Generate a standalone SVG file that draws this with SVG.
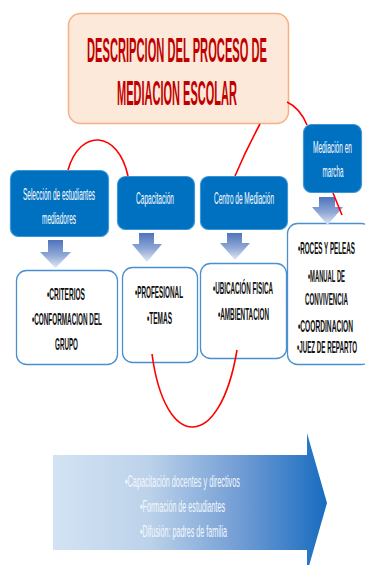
<svg xmlns="http://www.w3.org/2000/svg" width="365" height="565" viewBox="0 0 365 565">
<defs>
<linearGradient id="gDown" x1="0" y1="0" x2="0" y2="1">
<stop offset="0" stop-color="#4e74bd"/>
<stop offset="0.55" stop-color="#8fa8d6"/>
<stop offset="1" stop-color="#e2e9f5"/>
</linearGradient>
<linearGradient id="gBig" gradientUnits="userSpaceOnUse" x1="53" y1="0" x2="327" y2="0">
<stop offset="0" stop-color="#d3e3f3"/>
<stop offset="0.35" stop-color="#bcd2ea"/>
<stop offset="0.7" stop-color="#6d9ad3"/>
<stop offset="1" stop-color="#176cc0"/>
</linearGradient>
<style>
.title{font-family:"Liberation Sans",Arial,sans-serif;font-weight:bold;font-size:36px;fill:#c00000;text-anchor:middle}
.blue{fill:#0070c0;stroke:#3d97d6;stroke-width:1.2}
.bt{font-family:"Liberation Sans",Arial,sans-serif;font-size:17px;fill:#ffffff;text-anchor:middle}
.wbox{fill:#ffffff;stroke:#4a90d0;stroke-width:1.3}
.wt{font-family:"Liberation Sans",Arial,sans-serif;font-weight:bold;font-size:16px;fill:#111111;text-anchor:middle}
.down{fill:url(#gDown)}
.red{fill:none;stroke:#ff0000;stroke-width:1.6}
.at{font-family:"Liberation Sans",Arial,sans-serif;font-size:17px;fill:#f4f8fc;text-anchor:middle}
</style>
</defs>

<g id="title">
<rect x="68.5" y="13.5" width="220" height="110" rx="12" fill="#fde9d9" stroke="#f4b183" stroke-width="1.5"/>
<text class="title" transform="translate(177,62) scale(0.31,1)" textLength="580.6" lengthAdjust="spacingAndGlyphs">DESCRIPCION DEL PROCESO DE</text>
<text class="title" transform="translate(177,105) scale(0.31,1)" textLength="387.1" lengthAdjust="spacingAndGlyphs">MEDIACION ESCOLAR</text>
</g>

<g id="seleccion">
<rect class="blue" x="10.5" y="170.5" width="98" height="66" rx="8"/>
<text class="bt" transform="translate(59,200) scale(0.39,1)" textLength="184.6" lengthAdjust="spacingAndGlyphs">Selección de estudiantes</text>
<text class="bt" transform="translate(59,224) scale(0.39,1)" textLength="87.2" lengthAdjust="spacingAndGlyphs">mediadores</text>
</g>

<g id="capacitacion">
<rect class="blue" x="117.5" y="176.5" width="77" height="53" rx="8"/>
<text class="bt" transform="translate(155,204) scale(0.39,1)" textLength="97.4" lengthAdjust="spacingAndGlyphs">Capacitación</text>
</g>

<g id="centro">
<rect class="blue" x="200.5" y="176.5" width="87" height="53" rx="8"/>
<text class="bt" transform="translate(244,204) scale(0.39,1)" textLength="153.8" lengthAdjust="spacingAndGlyphs">Centro de Mediación</text>
</g>

<g id="mediacion">
<rect class="blue" x="303.5" y="124.5" width="58" height="68" rx="8"/>
<text class="bt" transform="translate(332.5,153) scale(0.39,1)" textLength="100" lengthAdjust="spacingAndGlyphs">Mediación en</text>
<text class="bt" transform="translate(333,177) scale(0.39,1)" textLength="53.8" lengthAdjust="spacingAndGlyphs">marcha</text>
</g>

<g id="box-seleccion">
<rect class="wbox" x="16.5" y="270.5" width="101" height="94" rx="10"/>
<text class="wt" transform="translate(66,300) scale(0.4,1)" textLength="95" lengthAdjust="spacingAndGlyphs">•CRITERIOS</text>
<text class="wt" transform="translate(67,325) scale(0.4,1)" textLength="175" lengthAdjust="spacingAndGlyphs">•CONFORMACION DEL</text>
<text class="wt" transform="translate(66.5,350) scale(0.4,1)" textLength="57.5" lengthAdjust="spacingAndGlyphs">GRUPO</text>
</g>

<g id="box-capacitacion">
<rect class="wbox" x="122.5" y="267.5" width="75" height="95" rx="10"/>
<text class="wt" transform="translate(159,298) scale(0.4,1)" textLength="120" lengthAdjust="spacingAndGlyphs">•PROFESIONAL</text>
<text class="wt" transform="translate(159.5,324) scale(0.4,1)" textLength="62.5" lengthAdjust="spacingAndGlyphs">•TEMAS</text>
</g>

<g id="box-centro">
<rect class="wbox" x="200.5" y="263.5" width="86" height="95" rx="10"/>
<text class="wt" transform="translate(243,294) scale(0.4,1)" textLength="150" lengthAdjust="spacingAndGlyphs">•UBICACIÓN FISICA</text>
<text class="wt" transform="translate(243.5,320) scale(0.4,1)" textLength="127.5" lengthAdjust="spacingAndGlyphs">•AMBIENTACION</text>
</g>

<g id="box-mediacion">
<rect class="wbox" x="287.5" y="223.5" width="84" height="141" rx="10"/>
<text class="wt" transform="translate(326.5,254) scale(0.4,1)" textLength="142.5" lengthAdjust="spacingAndGlyphs">•ROCES Y PELEAS</text>
<text class="wt" transform="translate(326.5,282) scale(0.4,1)" textLength="92.5" lengthAdjust="spacingAndGlyphs">•MANUAL DE</text>
<text class="wt" transform="translate(326.5,305) scale(0.4,1)" textLength="107.5" lengthAdjust="spacingAndGlyphs">CONVIVENCIA</text>
<text class="wt" transform="translate(325.5,332) scale(0.4,1)" textLength="137.5" lengthAdjust="spacingAndGlyphs">•COORDINACION</text>
<text class="wt" transform="translate(327,353) scale(0.4,1)" textLength="150" lengthAdjust="spacingAndGlyphs">•JUEZ DE REPARTO</text>
</g>

<g id="down-arrows">
<polygon class="down" points="48,240 63,240 63,252 71,252 55.5,268 40,252 48,252"/>
<polygon class="down" points="139,233 154,233 154,244 162,244 147,262 132,244 139,244"/>
<polygon class="down" points="227,233 242,233 242,243 250,243 235,260 220,243 227,243"/>
<polygon class="down" points="319,197 335,197 335,207 343,207 327.5,225 312,207 319,207"/>
</g>

<g id="connectors">
<path class="red" d="M68,170 C80,128 118,130 128,176"/>
<path class="red" d="M260,124 Q246,150 235,176"/>
<path class="red" d="M287,102 Q300,108 307,125"/>
<path class="red" d="M333,193 L342,215"/>
<path class="red" d="M152,354 C165,452 220,452 237,350"/>
</g>

<g id="big-arrow">
<polygon points="53,455 307,455 307,433 327,503 307,573 307,550 53,550" fill="url(#gBig)"/>
<text class="at" transform="translate(182.5,487) scale(0.43,1)" textLength="267.4" lengthAdjust="spacingAndGlyphs">•Capacitación docentes y directivos</text>
<text class="at" transform="translate(182.5,512) scale(0.43,1)" textLength="197.7" lengthAdjust="spacingAndGlyphs">•Formación de estudiantes</text>
<text class="at" transform="translate(183.5,537) scale(0.43,1)" textLength="202.3" lengthAdjust="spacingAndGlyphs">•Difusión: padres de familia</text>
</g>
</svg>
